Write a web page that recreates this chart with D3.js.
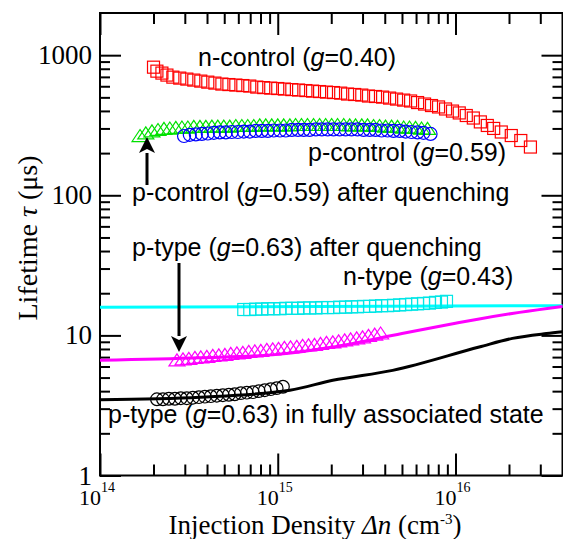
<!DOCTYPE html>
<html>
<head>
<meta charset="utf-8">
<script src="https://cdn.jsdelivr.net/npm/d3@7"></script>
<style>
  body { margin: 0; background: #fff; }
  svg { display: block; }
</style>
</head>
<body>
<svg id="chart" width="563" height="539"></svg>
<script>
// ---- Measured lifetime data (injection density in cm^-3, lifetime in µs) ----

// n-control (g=0.40)
const redX = [2.00e14,2.09e14,2.23e14,2.38e14,2.57e14,2.81e14,3.08e14,3.37e14,3.69e14,4.04e14,
              4.43e14,4.85e14,5.31e14,5.81e14,6.36e14,6.96e14,7.62e14,8.34e14,9.13e14,1.00e15,
              1.09e15,1.20e15,1.31e15,1.44e15,1.57e15,1.72e15,1.88e15,2.06e15,2.26e15,2.47e15,
              2.71e15,2.97e15,3.24e15,3.55e15,3.89e15,4.26e15,4.66e15,5.11e15,5.59e15,6.12e15,
              6.70e15,7.33e15,8.03e15,8.79e15,9.62e15,1.05e16,1.15e16,1.26e16,1.38e16,1.51e16,
              1.64e16,1.81e16,2.06e16,2.33e16,2.64e16];
const redY = [821,769,745,721,697,686,675,664,653,642,
              632,622,617,612,607,602,592,587,582,578,
              573,568,564,559,554,550,545,541,536,528,
              524,519,511,507,502,494,486,478,471,459,
              448,437,427,413,399,387,371,356,334,315,
              300,283,267,246,221];

// p-control (g=0.59)
const blueX = [2.97e14,3.20e14,3.46e14,3.74e14,4.04e14,4.37e14,4.72e14,5.10e14,5.51e14,5.96e14,
               6.44e14,6.96e14,7.52e14,8.13e14,8.79e14,9.50e14,1.03e15,1.11e15,1.20e15,1.30e15,
               1.40e15,1.51e15,1.64e15,1.77e15,1.91e15,2.06e15,2.23e15,2.41e15,2.60e15,2.81e15,
               3.04e15,3.29e15,3.55e15,3.84e15,4.15e15,4.48e15,4.85e15,5.24e15,5.66e15,6.12e15,
               6.61e15,7.24e15];
const blueY = [265,270,272,274,276,279,281,281,283,283,
               285,285,288,288,288,290,290,290,293,293,
               293,293,295,295,295,295,295,295,295,295,
               293,293,293,290,290,288,288,285,283,281,
               279,274];

// p-control (g=0.59) after quenching
const greenX = [1.68e14,1.81e14,1.96e14,2.12e14,2.29e14,2.47e14,2.67e14,2.89e14,3.12e14,3.37e14,
                3.65e14,3.94e14,4.26e14,4.60e14,4.97e14,5.37e14,5.81e14,6.28e14,6.78e14,7.33e14,
                7.92e14,8.56e14,9.25e14,1.00e15,1.08e15,1.17e15,1.26e15,1.36e15,1.47e15,1.59e15,
                1.72e15,1.86e15,2.01e15,2.17e15,2.35e15,2.54e15,2.74e15,2.97e15,3.20e15,3.46e15,
                3.74e15,4.04e15,4.37e15,4.72e15,5.11e15,5.51e15,5.96e15,6.44e15,6.96e15];
const greenY = [267,279,288,295,300,302,305,307,307,310,
                310,310,312,312,312,312,315,315,315,315,
                318,318,318,318,318,318,320,320,320,320,
                320,320,320,320,320,318,318,318,318,315,
                315,312,312,310,307,307,305,302,300];

// n-type (g=0.43)
const cyanX = [6.44e14,6.96e14,7.52e14,8.13e14,8.79e14,9.50e14,1.03e15,1.11e15,1.20e15,1.30e15,
               1.40e15,1.51e15,1.64e15,1.77e15,1.91e15,2.06e15,2.23e15,2.41e15,2.60e15,2.81e15,
               3.04e15,3.29e15,3.55e15,3.84e15,4.15e15,4.48e15,4.85e15,5.24e15,5.66e15,6.12e15,
               6.61e15,7.14e15,7.72e15,8.34e15,8.90e15];
const cyanY = [15.3,15.3,15.4,15.4,15.5,15.5,15.5,15.6,15.6,15.6,
               15.7,15.7,15.7,15.8,15.8,15.8,15.9,15.9,16.0,16.0,
               16.1,16.1,16.2,16.3,16.3,16.4,16.5,16.6,16.7,16.8,
               16.9,17.0,17.2,17.3,17.5];

// p-type (g=0.63) after quenching
const magX = [2.71e14,2.93e14,3.16e14,3.42e14,3.69e14,3.99e14,4.31e14,4.66e14,5.04e14,5.44e14,
              5.89e14,6.36e14,6.87e14,7.43e14,8.03e14,8.68e14,9.37e14,1.01e15,1.09e15,1.18e15,
              1.28e15,1.38e15,1.49e15,1.61e15,1.74e15,1.88e15,2.04e15,2.20e15,2.38e15,2.57e15,
              2.78e15,3.00e15,3.24e15,3.51e15,3.79e15];
const magY = [6.69,6.80,6.86,6.97,7.03,7.09,7.20,7.26,7.32,7.44,
              7.51,7.57,7.69,7.76,7.82,7.95,8.01,8.08,8.21,8.28,
              8.35,8.49,8.56,8.63,8.77,8.92,8.99,9.14,9.29,9.44,
              9.60,9.76,10.0,10.2,10.4];

// p-type (g=0.63) in fully associated state
const blackX = [2.09e14,2.26e14,2.44e14,2.64e14,2.85e14,3.08e14,3.33e14,3.60e14,3.89e14,4.20e14,
                4.54e14,4.91e14,5.31e14,5.73e14,6.20e14,6.70e14,7.24e14,7.82e14,8.45e14,9.13e14,
                9.87e14,1.07e15];
const blackY = [3.50,3.50,3.53,3.53,3.56,3.56,3.59,3.62,3.65,3.68,
                3.71,3.74,3.77,3.80,3.87,3.90,3.93,4.00,4.06,4.13,
                4.20,4.30];

// Model curves
const cyanFitX = [1e14, 4e16];
const cyanFitY = [15.9, 16.3];
const magFitX = [1e14, 3.65e14, 1e15, 2e15, 5e15, 1e16, 1.36e16, 2.29e16, 4e16];
const magFitY = [6.64, 6.92, 7.32, 8.22, 10.3, 12.2, 13.1, 14.6, 16.1];
const blackFitX = [1e14, 3.65e14, 1.17e15, 2.04e15, 4.43e15, 1.36e16, 2.09e16, 3.25e16, 4e16];
const blackFitY = [3.47, 3.62, 4.06, 4.78, 5.63, 8.26, 9.52, 10.3, 10.6];

// Axis ticks
const xMajor = [1e14, 1e15, 1e16];
const xLabelExp = [14, 15, 16];
const yMajor = [1, 10, 100, 1000];
const yLabels = ["1", "10", "100", "1000"];

// ---- Drawing ----
const svg = d3.select("#chart");
const serif = "'Liberation Serif', 'Times New Roman', serif";
const sans = "'Liberation Sans', Arial, sans-serif";

const x = d3.scaleLog().domain([1e14, 4e16]).range([100, 562.5]);
const y = d3.scaleLog().domain([1, 2000]).range([475.5, 13]);
const [x0, x1] = x.range();
const [yb, yt] = y.range();

function minors(decades, max) {
  const out = [];
  decades.forEach(d => { for (let m = 2; m <= 9; m++) if (m * d < max) out.push(m * d); });
  return out;
}
const xMinor = minors(xMajor, 4e16);
const yMinor = minors(yMajor, 2000);

// inward ticks on all four sides
function styleAxis(g) {
  g.select(".domain").remove();
  g.selectAll(".tick line").attr("stroke", "#000").attr("stroke-width", 2);
}
const axes = svg.append("g");
axes.append("g").attr("transform", `translate(0,${yb})`)
  .call(d3.axisBottom(x).tickValues(xMajor).tickSize(-22).tickFormat("")).call(styleAxis);
axes.append("g").attr("transform", `translate(0,${yb})`)
  .call(d3.axisBottom(x).tickValues(xMinor).tickSize(-11).tickFormat("")).call(styleAxis);
axes.append("g").attr("transform", `translate(0,${yt})`)
  .call(d3.axisTop(x).tickValues(xMajor).tickSize(-22).tickFormat("")).call(styleAxis);
axes.append("g").attr("transform", `translate(0,${yt})`)
  .call(d3.axisTop(x).tickValues(xMinor).tickSize(-11).tickFormat("")).call(styleAxis);
axes.append("g").attr("transform", `translate(${x0},0)`)
  .call(d3.axisLeft(y).tickValues(yMajor).tickSize(-21).tickFormat("")).call(styleAxis);
axes.append("g").attr("transform", `translate(${x0},0)`)
  .call(d3.axisLeft(y).tickValues(yMinor).tickSize(-10).tickFormat("")).call(styleAxis);
axes.append("g").attr("transform", `translate(${x1},0)`)
  .call(d3.axisRight(y).tickValues(yMajor).tickSize(-21).tickFormat("")).call(styleAxis);
axes.append("g").attr("transform", `translate(${x1},0)`)
  .call(d3.axisRight(y).tickValues(yMinor).tickSize(-10).tickFormat("")).call(styleAxis);

// frame
svg.append("rect")
  .attr("x", x0).attr("y", yt).attr("width", x1 - x0).attr("height", yb - yt)
  .attr("fill", "none").attr("stroke", "#000").attr("stroke-width", 2);

// y tick labels
svg.append("g").selectAll("text").data(yMajor).join("text")
  .attr("x", 92).attr("y", d => y(d) + 9)
  .attr("text-anchor", "end")
  .attr("font-family", serif).attr("font-size", 27)
  .text((d, i) => yLabels[i]);

// x tick labels: 10 with superscript exponent, "10" ending at the tick
xMajor.forEach((v, i) => {
  const t = svg.append("text")
    .attr("font-family", serif).attr("font-size", 22)
    .attr("y", 505);
  const base = t.append("tspan").text("10");
  t.append("tspan").attr("font-size", 14).attr("dy", -13).text(xLabelExp[i]);
  const w = base.node().getComputedTextLength();
  t.attr("x", x(v) - w + 1);
});

// axis titles
const xt = svg.append("text")
  .attr("x", 315).attr("y", 534)
  .attr("text-anchor", "middle")
  .attr("font-family", serif).attr("font-size", 27);
xt.append("tspan").text("Injection Density ");
xt.append("tspan").attr("font-style", "italic").text("Δn");
xt.append("tspan").text(" (cm");
xt.append("tspan").attr("font-size", 15).attr("dy", -10).text("-3");
xt.append("tspan").attr("dy", 10).text(")");

const yTitle = svg.append("text")
  .attr("transform", "translate(37,238) rotate(-90)")
  .attr("text-anchor", "middle")
  .attr("font-family", serif).attr("font-size", 28);
yTitle.append("tspan").text("Lifetime ");
yTitle.append("tspan").attr("font-style", "italic").text("τ");
yTitle.append("tspan").text(" (μs)");

// model curves
const line = d3.line().x(d => x(d[0])).y(d => y(d[1])).curve(d3.curveMonotoneX);
function drawFit(xs, ys, color) {
  svg.append("path")
    .datum(xs.map((v, i) => [v, ys[i]]))
    .attr("d", line)
    .attr("fill", "none").attr("stroke", color).attr("stroke-width", 3);
}
drawFit(cyanFitX, cyanFitY, "#00ffff");
drawFit(magFitX, magFitY, "#ff00ff");
drawFit(blackFitX, blackFitY, "#000000");

// markers
const pts = (xs, ys) => xs.map((v, i) => [v, ys[i]]);
const mw = 1.2;
function squares(xs, ys, color, s) {
  svg.append("g").selectAll("rect").data(pts(xs, ys)).join("rect")
    .attr("x", d => x(d[0]) - s / 2).attr("y", d => y(d[1]) - s / 2)
    .attr("width", s).attr("height", s)
    .attr("fill", "none").attr("stroke", color).attr("stroke-width", mw);
}
function circles(xs, ys, color, r) {
  svg.append("g").selectAll("circle").data(pts(xs, ys)).join("circle")
    .attr("cx", d => x(d[0])).attr("cy", d => y(d[1])).attr("r", r)
    .attr("fill", "none").attr("stroke", color).attr("stroke-width", mw);
}
function triangles(xs, ys, color, w, h) {
  svg.append("g").selectAll("path").data(pts(xs, ys)).join("path")
    .attr("d", d => {
      const cx = x(d[0]), cy = y(d[1]);
      return `M${cx},${cy - h / 2}L${cx + w / 2},${cy + h / 2}L${cx - w / 2},${cy + h / 2}Z`;
    })
    .attr("fill", "none").attr("stroke", color).attr("stroke-width", mw);
}
squares(redX, redY, "#ff0000", 12);
triangles(greenX, greenY, "#00e000", 16, 12);
circles(blueX, blueY, "#0000ff", 6.5);
squares(cyanX, cyanY, "#00e6e6", 12);
triangles(magX, magY, "#ff00ff", 16, 12);
circles(blackX, blackY, "#000000", 6.3);

// annotations
function label(xp, yp, parts) {
  const t = svg.append("text").attr("x", xp).attr("y", yp)
    .attr("font-family", sans).attr("font-size", 25).attr("fill", "#000");
  parts.forEach(p => {
    const s = t.append("tspan").text(p[0]);
    if (p[1]) s.attr("font-style", "italic");
  });
}
label(198, 66, [["n-control ("], ["g", true], ["=0.40)"]]);
label(308, 161, [["p-control ("], ["g", true], ["=0.59)"]]);
label(132, 201, [["p-control ("], ["g", true], ["=0.59) after quenching"]]);
label(132, 256, [["p-type ("], ["g", true], ["=0.63) after quenching"]]);
label(343, 285, [["n-type ("], ["g", true], ["=0.43)"]]);
label(108, 423, [["p-type ("], ["g", true], ["=0.63) in fully associated state"]]);

// arrows
function arrow(xp, yFrom, yTip) {
  const dir = yTip < yFrom ? -1 : 1;
  const headLen = 16, half = 8;
  svg.append("line")
    .attr("x1", xp).attr("x2", xp)
    .attr("y1", yFrom).attr("y2", yTip - dir * headLen)
    .attr("stroke", "#000").attr("stroke-width", 3);
  svg.append("path")
    .attr("d", `M${xp},${yTip}L${xp + half},${yTip - dir * headLen}L${xp},${yTip - dir * (headLen - 4)}L${xp - half},${yTip - dir * headLen}Z`)
    .attr("fill", "#000");
}
arrow(147, 185, 137);
arrow(179, 263, 352);
</script>
</body>
</html>
